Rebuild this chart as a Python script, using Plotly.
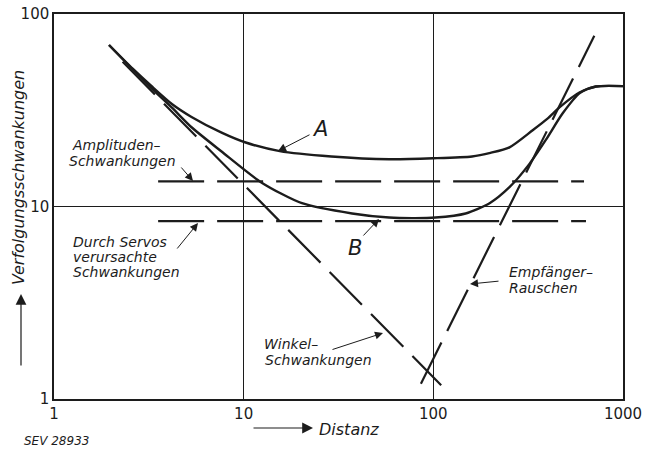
import plotly.graph_objects as go

# --------------------------------------------------------------------------
# data (log-log: Distanz vs. Verfolgungsschwankungen)

curve_a_x = [1.95, 2.6, 3.26, 4.2, 5.31, 7.65, 10.25, 15.5, 29, 58.5, 100, 160, 200, 252, 334, 400, 464, 592, 720, 1000]
curve_a_y = [69, 52, 42.3, 34, 29.2, 24.2, 21.5, 19.4, 18.2, 17.6, 17.8, 18.2, 19.0, 20.3, 24.9, 28.6, 32.8, 39.2, 42.0, 42.2]

curve_b_x = [1.95, 2.6, 3.26, 4.2, 5.31, 7.65, 12.45, 20.3, 37.3, 58.5, 80, 102.5, 148, 198, 252, 322, 391, 481, 592, 720, 1000]
curve_b_y = [69, 51.5, 41.2, 32.5, 25.8, 19.3, 13.3, 10.4, 9.2, 8.76, 8.7, 8.76, 9.2, 10.4, 12.6, 16.7, 22.1, 30.5, 38.8, 42.0, 42.2]

winkel_x = [2.3, 110]
winkel_y = [56.5, 1.18]

empfaenger_x = [86, 706]
empfaenger_y = [1.2, 77]

amplituden_x = [3.54, 623]
amplituden_y = [13.5, 13.5]

servo_x = [3.54, 638]
servo_y = [8.4, 8.4]

x_ticks = [1, 10, 100, 1000]
y_ticks = [1, 10, 100]

# --------------------------------------------------------------------------

INK = "#1c1c1c"
FONT = "DejaVu Sans"
W, H = 648, 449
L, R, T, B = 54, 25, 14, 50
PW, PH = W - L - R, H - T - B


def px(x):
    return (x - L) / PW


def py(y):
    return (H - B - y) / PH


fig = go.Figure()

for xs, ys in [(curve_a_x, curve_a_y), (curve_b_x, curve_b_y)]:
    fig.add_trace(go.Scatter(
        x=xs, y=ys, mode="lines",
        line=dict(color=INK, width=2.4, shape="spline", smoothing=0.7),
        showlegend=False, hoverinfo="skip"
    ))

for xs, ys in [(winkel_x, winkel_y), (empfaenger_x, empfaenger_y),
               (amplituden_x, amplituden_y), (servo_x, servo_y)]:
    fig.add_trace(go.Scatter(
        x=xs, y=ys, mode="lines",
        line=dict(color=INK, width=2.2, dash="46px,13px"),
        showlegend=False, hoverinfo="skip"
    ))

axis_common = dict(
    type="log",
    showgrid=True, gridcolor=INK, gridwidth=1,
    showline=True, linecolor=INK, linewidth=1.5, mirror=True,
    ticks="", zeroline=False, automargin=False,
    tickfont=dict(family=FONT, size=15, color=INK),
)

fig.update_layout(
    width=W, height=H,
    margin=dict(l=L, r=R, t=T, b=B, autoexpand=False),
    paper_bgcolor="white", plot_bgcolor="white",
    xaxis=dict(range=[0, 3], tickvals=x_ticks, ticktext=[str(v) for v in x_ticks], **axis_common),
    yaxis=dict(range=[0, 2], tickvals=y_ticks, ticktext=[str(v) for v in y_ticks], **axis_common),
)


def text(s, x, y, size=14, anchor="left", angle=0):
    fig.add_annotation(
        text=s, x=px(x), y=py(y), xref="paper", yref="paper",
        xanchor=anchor, yanchor="middle", showarrow=False, textangle=angle,
        borderpad=0,
        font=dict(family=FONT, size=size, color=INK, style="italic"),
    )


def pointer(tip, tail, width=1.0, size=1.6):
    fig.add_annotation(
        text="", x=px(tip[0]), y=py(tip[1]), xref="paper", yref="paper",
        ax=tail[0] - tip[0], ay=tail[1] - tip[1],
        showarrow=True, arrowhead=2, arrowsize=size, arrowwidth=width, arrowcolor=INK,
    )


# curve labels
text("A", 320, 129, size=21, anchor="center")
pointer((278, 151), (311, 134))
text("B", 355, 248, size=21, anchor="center")
pointer((379, 219), (362, 237))

text("Amplituden–", 71, 145)
text("Schwankungen", 68, 161)
pointer((193, 181), (180, 166))

text("Durch Servos", 72, 242)
text("verursachte", 72, 257)
text("Schwankungen", 72, 272)
pointer((198, 223), (176, 250))

text("Winkel–", 263, 344)
text("Schwankungen", 264, 360)
pointer((383, 333), (331, 350))

text("Empfänger–", 508, 272)
text("Rauschen", 508, 288)
pointer((470, 284), (500, 281))

# axis titles with arrows
text("Verfolgungsschwankungen", 18, 178, size=16, anchor="center", angle=-90)
pointer((21, 294), (21, 367), width=1.2, size=1.8)
text("Distanz", 349, 429, size=16, anchor="center")
pointer((313, 428), (252, 428), width=1.2, size=1.8)

text("SEV 28933", 56, 441, size=12, anchor="center")

# page body has a default 8px margin; drop it so the figure sits at 0,0
fig.write_html("out.html", config={"displayModeBar": False},
               post_script="document.body.style.margin='0';")
